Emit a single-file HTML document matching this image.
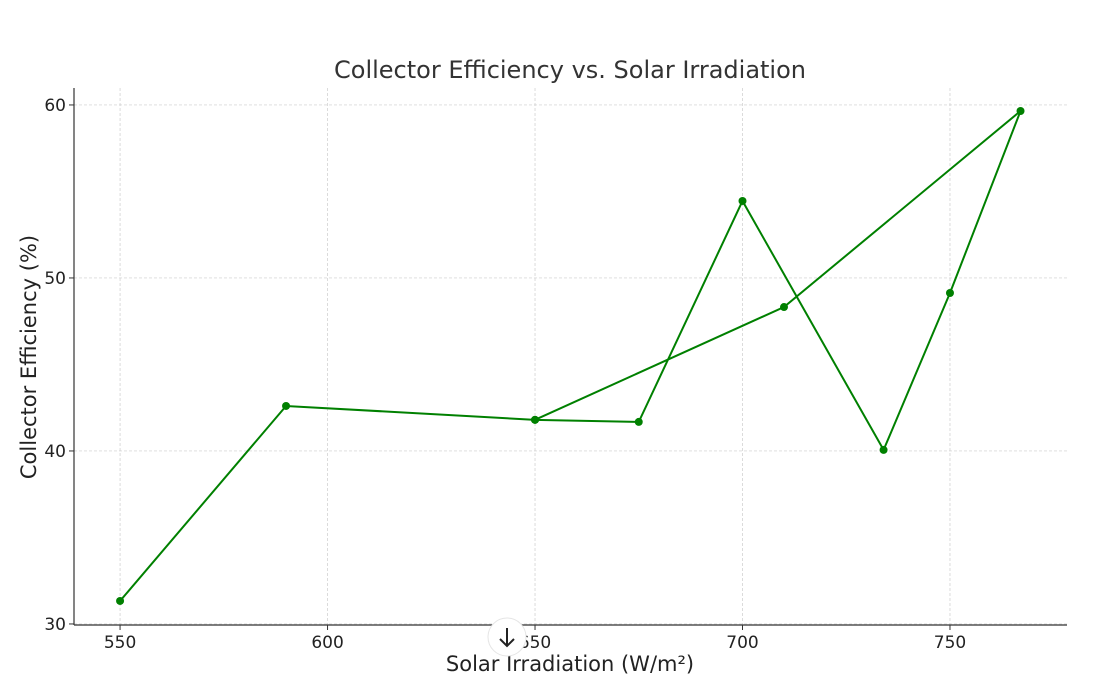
<!DOCTYPE html>
<html><head><meta charset="utf-8"><style>
body{margin:0;background:#fff;font-family:"Liberation Sans","DejaVu Sans",sans-serif;}
svg text{font-family:"DejaVu Sans","Liberation Sans",sans-serif;}
</style></head><body>
<svg id="chart" width="1117" height="688" xmlns="http://www.w3.org/2000/svg">
<rect width="1117" height="688" fill="#fff"/>
<text x="570" y="78" text-anchor="middle" font-size="24" fill="#333">Collector Efficiency vs. Solar Irradiation</text>
<g id="grid"></g>
<g id="axes"></g>
<g id="series"></g>
<text x="570" y="671" text-anchor="middle" font-size="21" fill="#222">Solar Irradiation (W/m²)</text>
<text transform="translate(36,357) rotate(-90)" text-anchor="middle" font-size="21" fill="#222">Collector Efficiency (%)</text>
<g>
<circle cx="507" cy="637" r="19" fill="#fff" stroke="#e5e5e5"/>
<path d="M507 628 V646 M500 639 L507 646 L514 639" stroke="#222" stroke-width="2" fill="none"/>
</g>
</svg>
<script>
const irradiation=[550,590,650,675,700,734,750,767,710,650];
const efficiency=[31.33,42.6,41.8,41.68,54.45,40.06,49.13,59.65,48.32,41.8];
const xTicks=[550,600,650,700,750];
const yTicks=[30,40,50,60];
const L=74,R=1067,T=88,B=625;
const xMin=538.9,xMax=778.2,yMin=29.94,yMax=60.98;
const sx=v=>L+(v-xMin)/(xMax-xMin)*(R-L);
const sy=v=>B-(v-yMin)/(yMax-yMin)*(B-T);
const NS="http://www.w3.org/2000/svg";
function mk(tag,attrs,parent){const e=document.createElementNS(NS,tag);for(const k in attrs)e.setAttribute(k,attrs[k]);parent.appendChild(e);return e;}
const grid=document.getElementById('grid'),axes=document.getElementById('axes'),series=document.getElementById('series');
xTicks.forEach(t=>{const x=sx(t);
const g=mk('line',{x1:x,x2:x,y1:T,y2:B,stroke:'#ccc','stroke-dasharray':'3,2','stroke-width':0.7},grid);


mk('line',{x1:x,x2:x,y1:B,y2:B+5,stroke:'#333'},axes);
const tx=mk('text',{x:x,y:B+23,'text-anchor':'middle','font-size':17,fill:'#222'},axes);tx.textContent=t;

});
yTicks.forEach(t=>{const y=sy(t);
const g=mk('line',{x1:L,x2:R,y1:y,y2:y,stroke:'#ccc','stroke-dasharray':'3,2','stroke-width':0.7},grid);


mk('line',{x1:L-5,x2:L,y1:y,y2:y,stroke:'#333'},axes);
const tx=mk('text',{x:L-8,y:y+6,'text-anchor':'end','font-size':17,fill:'#222'},axes);tx.textContent=t;

});
const ya=mk('line',{x1:L,x2:L,y1:T,y2:B,stroke:'#333','stroke-width':1.2},axes);


const xa=mk('line',{x1:L,x2:R,y1:B,y2:B,stroke:'#333','stroke-width':1.2},axes);


const pts=irradiation.map((v,i)=>sx(v)+','+sy(efficiency[i])).join(' ');
const pl=mk('polyline',{points:pts,fill:'none',stroke:'#008000','stroke-width':2},series);


irradiation.forEach((v,i)=>{const c=mk('circle',{cx:sx(v),cy:sy(efficiency[i]),r:4,fill:'#008000'},series);

});
</script>
</body></html>
